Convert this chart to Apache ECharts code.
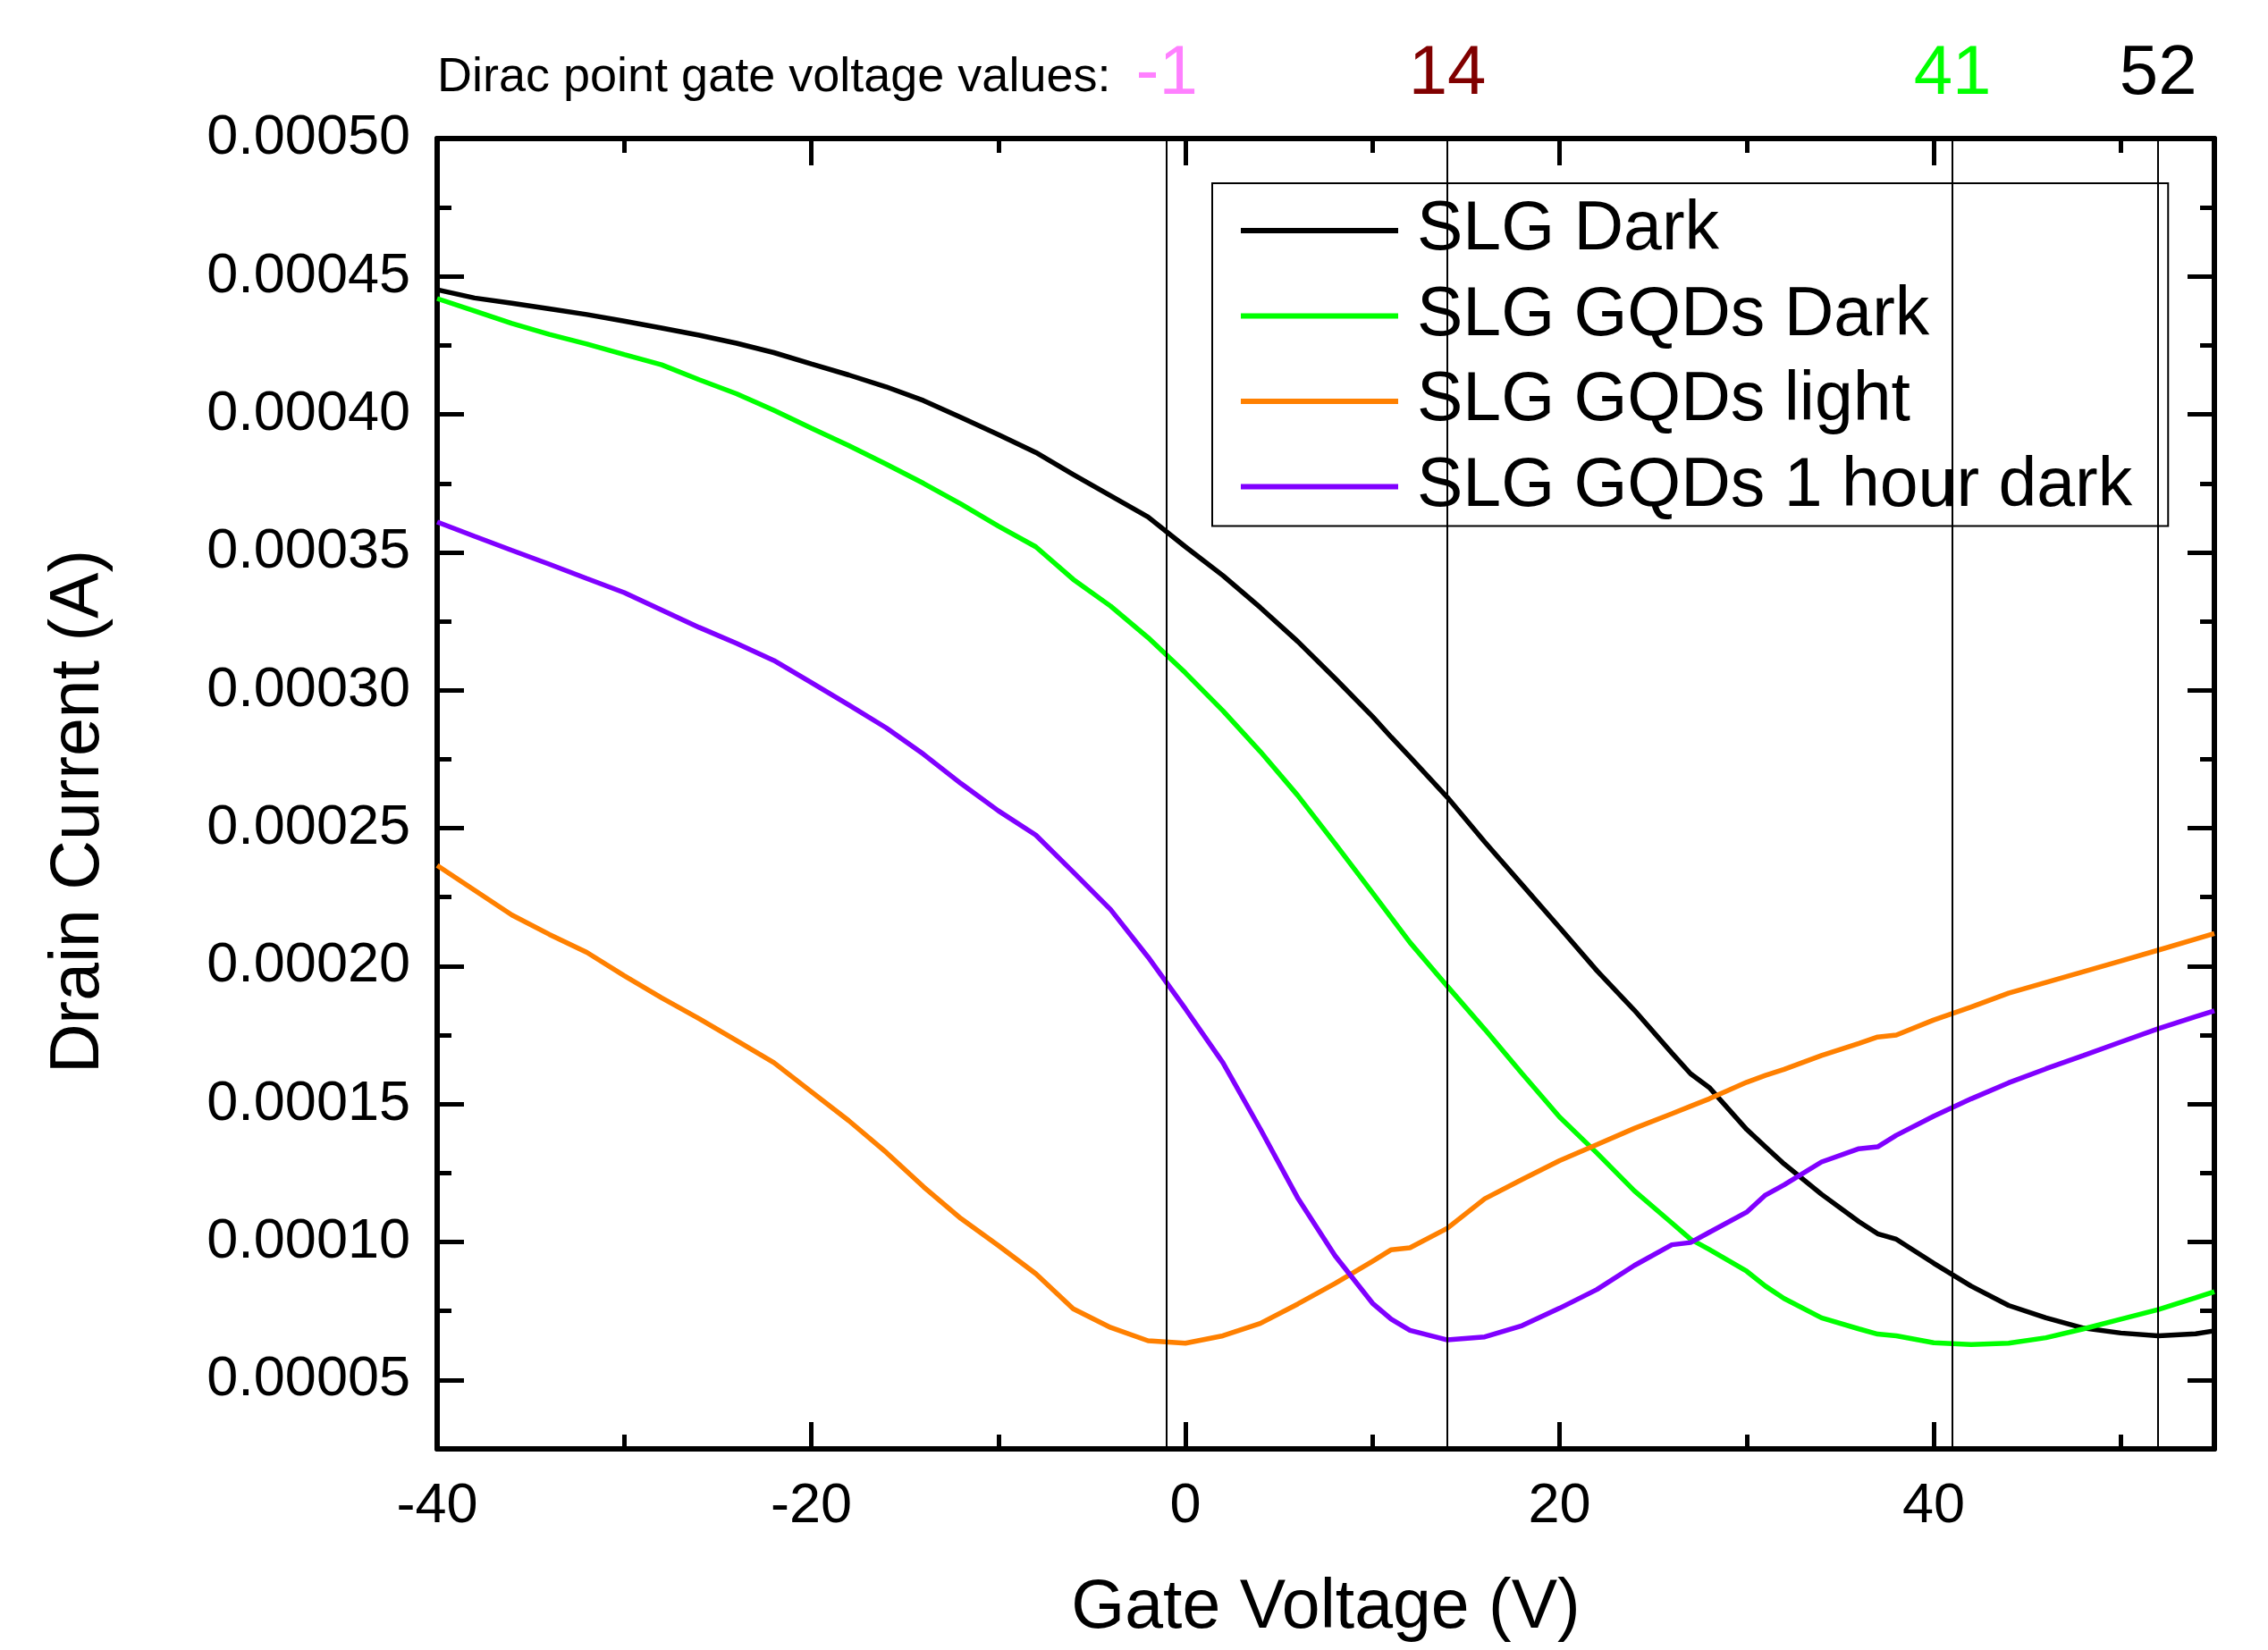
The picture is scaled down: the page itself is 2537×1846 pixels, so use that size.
<!DOCTYPE html>
<html>
<head>
<meta charset="utf-8">
<script src="https://cdn.jsdelivr.net/npm/echarts@6/dist/echarts.min.js"></script>
<style>
  html, body { margin: 0; background: #fff; }
  #chart { width: 2537px; height: 1846px; }
</style>
</head>
<body>
<div id="chart"></div>
<script>
// gate voltage (V) shared by all four curves
const gateVoltage = [-40, -38, -36, -34, -32, -30, -28, -26, -24, -22, -20, -18, -16, -14, -12, -10, -8, -6, -4, -2,
  0, 2, 4, 6, 8, 10, 11, 12, 14, 16, 18, 20, 22, 24, 26, 27, 28, 30, 31, 32, 34, 36, 37, 38,
  40, 42, 44, 46, 48, 50, 52, 54, 55];

// drain current (A)
const slgDark = [0.0004452, 0.0004422, 0.0004403, 0.0004383, 0.0004362, 0.0004338, 0.0004313, 0.0004287, 0.0004258, 0.0004224,
  0.0004183, 0.0004143, 0.0004100, 0.0004050, 0.0003989, 0.0003927, 0.0003862, 0.0003782, 0.0003705, 0.0003628,
  0.0003520, 0.0003416, 0.0003300, 0.0003177, 0.0003043, 0.0002905, 0.0002830, 0.0002758, 0.0002612, 0.0002450,
  0.0002295, 0.0002140, 0.0001983, 0.0001840, 0.0001685, 0.0001610, 0.0001560, 0.0001408, 0.0001345, 0.0001283,
  0.0001173, 0.0001074, 0.0001030, 0.0001010, 0.0000923, 0.0000840, 0.0000770, 0.0000725, 0.0000688, 0.0000670,
  0.0000660, 0.0000667, 0.0000678];

const slgGqdsDark = [0.0004420, 0.0004375, 0.0004330, 0.0004290, 0.0004255, 0.0004217, 0.0004180, 0.0004126, 0.0004075, 0.0004015,
  0.0003950, 0.0003887, 0.0003820, 0.0003750, 0.0003675, 0.0003595, 0.0003520, 0.0003402, 0.0003305, 0.0003191,
  0.0003063, 0.0002926, 0.0002778, 0.0002619, 0.0002444, 0.0002266, 0.0002176, 0.0002086, 0.0001927, 0.0001771,
  0.0001610, 0.0001453, 0.0001322, 0.0001185, 0.0001069, 0.0001010, 0.0000973, 0.0000894, 0.0000840, 0.0000795,
  0.0000725, 0.0000685, 0.0000666, 0.0000660, 0.0000635, 0.0000628, 0.0000633, 0.0000653, 0.0000685, 0.0000720,
  0.0000755, 0.0000798, 0.0000820];

const slgGqdsLight = [0.0002365, 0.0002275, 0.0002185, 0.0002115, 0.0002050, 0.0001965, 0.0001885, 0.0001810, 0.0001730, 0.0001650,
  0.0001545, 0.0001440, 0.0001325, 0.0001200, 0.0001085, 0.0000987, 0.0000885, 0.0000758, 0.0000690, 0.0000642,
  0.0000633, 0.0000660, 0.0000705, 0.0000775, 0.0000850, 0.0000930, 0.0000972, 0.0000979, 0.0001050, 0.0001157,
  0.0001227, 0.0001295, 0.0001353, 0.0001412, 0.0001465, 0.0001492, 0.0001519, 0.0001579, 0.0001604, 0.0001626,
  0.0001676, 0.0001720, 0.0001743, 0.0001750, 0.0001805, 0.0001852, 0.0001902, 0.0001941, 0.0001980, 0.0002019,
  0.0002058, 0.0002098, 0.0002118];

const slgGqds1hDark = [0.0003610, 0.0003558, 0.0003507, 0.0003457, 0.0003405, 0.0003354, 0.0003291, 0.0003228, 0.0003170, 0.0003108,
  0.0003028, 0.0002947, 0.0002864, 0.0002768, 0.0002662, 0.0002563, 0.0002475, 0.0002341, 0.0002205, 0.0002033,
  0.0001845, 0.0001650, 0.0001410, 0.0001160, 0.0000950, 0.0000778, 0.0000720, 0.0000680, 0.0000645, 0.0000656,
  0.0000697, 0.0000760, 0.0000828, 0.0000915, 0.0000990, 0.0000998, 0.0001035, 0.0001108, 0.0001170, 0.0001207,
  0.0001290, 0.0001338, 0.0001345, 0.0001387, 0.0001456, 0.0001519, 0.0001577, 0.0001628, 0.0001676, 0.0001725,
  0.0001773, 0.0001817, 0.0001838];

const seriesNames = ['SLG Dark', 'SLG GQDs Dark', 'SLG GQDs light', 'SLG GQDs 1 hour dark'];

// axis ticks
const xMajorTicks = [-40, -20, 0, 20, 40];
const yMajorTicks = [0.00005, 0.0001, 0.00015, 0.0002, 0.00025, 0.0003, 0.00035, 0.0004, 0.00045, 0.0005];
const diracPoints = [-1, 14, 41, 52];

const font = 'Liberation Sans, Arial, Helvetica, sans-serif';
const diracColors = ['#ff80ff', '#800000', '#00ff00', '#000000'];
const lineColors = ['#000000', '#00ff00', '#ff8000', '#8000ff'];
const curves = [slgDark, slgGqdsDark, slgGqdsLight, slgGqds1hDark];

const chart = echarts.init(document.getElementById('chart'));

// x axes: major (long ticks) and minor overlay, bottom and top
function xAxisPair(pos) {
    const major = {
        type: 'value', position: pos, min: -40, max: 55, interval: 20,
        axisLine: { show: true, onZero: false, lineStyle: { color: '#000', width: 6 } },
        axisTick: { show: true, inside: true, length: 30, customValues: xMajorTicks, lineStyle: { color: '#000', width: 5 } },
        axisLabel: { show: false },
        splitLine: { show: false }
    };
    const minor = {
        type: 'value', position: pos, min: -40, max: 55, interval: 10,
        axisLine: { show: false, onZero: false },
        axisTick: { show: true, inside: true, length: 16, lineStyle: { color: '#000', width: 5 } },
        axisLabel: { show: false },
        splitLine: { show: false }
    };
    return [major, minor];
}

function yAxisPair(pos) {
    const major = {
        type: 'value', position: pos, min: 0.000025, max: 0.0005, interval: 0.000025,
        axisLine: { show: true, onZero: false, lineStyle: { color: '#000', width: 6 } },
        axisTick: { show: true, inside: true, length: 30, customValues: yMajorTicks, lineStyle: { color: '#000', width: 5 } },
        axisLabel: { show: false },
        splitLine: { show: false }
    };
    const minor = {
        type: 'value', position: pos, min: 0.000025, max: 0.0005, interval: 0.000025,
        axisLine: { show: false, onZero: false },
        axisTick: { show: true, inside: true, length: 16, lineStyle: { color: '#000', width: 5 } },
        axisLabel: { show: false },
        splitLine: { show: false }
    };
    return [major, minor];
}

const [xBottom, xBottomMinor] = xAxisPair('bottom');
const [xTop, xTopMinor] = xAxisPair('top');
const [yLeft, yLeftMinor] = yAxisPair('left');
const [yRight, yRightMinor] = yAxisPair('right');

xBottom.axisLabel = { show: true, customValues: xMajorTicks, fontSize: 63, color: '#000', fontFamily: font, margin: 33 };
xBottom.name = 'Gate Voltage (V)';
xBottom.nameLocation = 'middle';
xBottom.nameGap = 140;
xBottom.nameTextStyle = { fontSize: 77, color: '#000', fontFamily: font };

// dirac point values above the top axis
const rich = {};
diracColors.forEach((c, i) => { rich['d' + i] = { color: c, fontSize: 78, fontFamily: font }; });
xTop.axisLabel = {
    show: true, customValues: diracPoints, margin: 33, fontSize: 78, fontFamily: font,
    formatter: v => '{d' + diracPoints.indexOf(v) + '|' + v + '}',
    rich: rich
};

yLeft.axisLabel = {
    show: true, customValues: yMajorTicks, fontSize: 63, color: '#000', fontFamily: font, margin: 30,
    formatter: v => v.toFixed(5)
};
yLeft.name = 'Drain Current (A)';
yLeft.nameLocation = 'middle';
yLeft.nameGap = 362;
yLeft.nameRotate = 90;
yLeft.nameTextStyle = { fontSize: 77, color: '#000', fontFamily: font, padding: [0, 40, 0, 0] };

const series = seriesNames.map((name, k) => ({
    name: name,
    type: 'line',
    xAxisIndex: 0,
    yAxisIndex: 0,
    data: gateVoltage.map((v, i) => [v, curves[k][i]]),
    symbol: 'none',
    showSymbol: false,
    lineStyle: { color: lineColors[k], width: 5.5 },
    itemStyle: { color: lineColors[k] }
}));

// thin vertical lines at the Dirac points
series[0].markLine = {
    silent: true,
    symbol: ['none', 'none'],
    label: { show: false },
    lineStyle: { color: '#000', width: 2, type: 'solid' },
    data: diracPoints.map(v => ({ xAxis: v }))
};

chart.setOption({
    animation: false,
    backgroundColor: '#fff',
    title: {
        text: 'Dirac point gate voltage values:',
        left: 489, top: 60, padding: 0,
        textStyle: { fontSize: 54, fontWeight: 'normal', color: '#000', fontFamily: font }
    },
    grid: { left: 489, right: 60, top: 155, bottom: 225 },
    legend: {
        data: seriesNames,
        orient: 'vertical',
        left: 1356, top: 205,
        backgroundColor: '#fff',
        borderColor: '#000', borderWidth: 2,
        padding: [14, 40, 5, 32],
        icon: 'rect',
        itemWidth: 176, itemHeight: 6, itemGap: 17.5,
        textStyle: { fontSize: 77, lineHeight: 78, color: '#000', fontFamily: font, padding: [0, 0, 0, 16] }
    },
    xAxis: [xBottom, xBottomMinor, xTop, xTopMinor],
    yAxis: [yLeft, yLeftMinor, yRight, yRightMinor],
    series: series
});
</script>
</body>
</html>
